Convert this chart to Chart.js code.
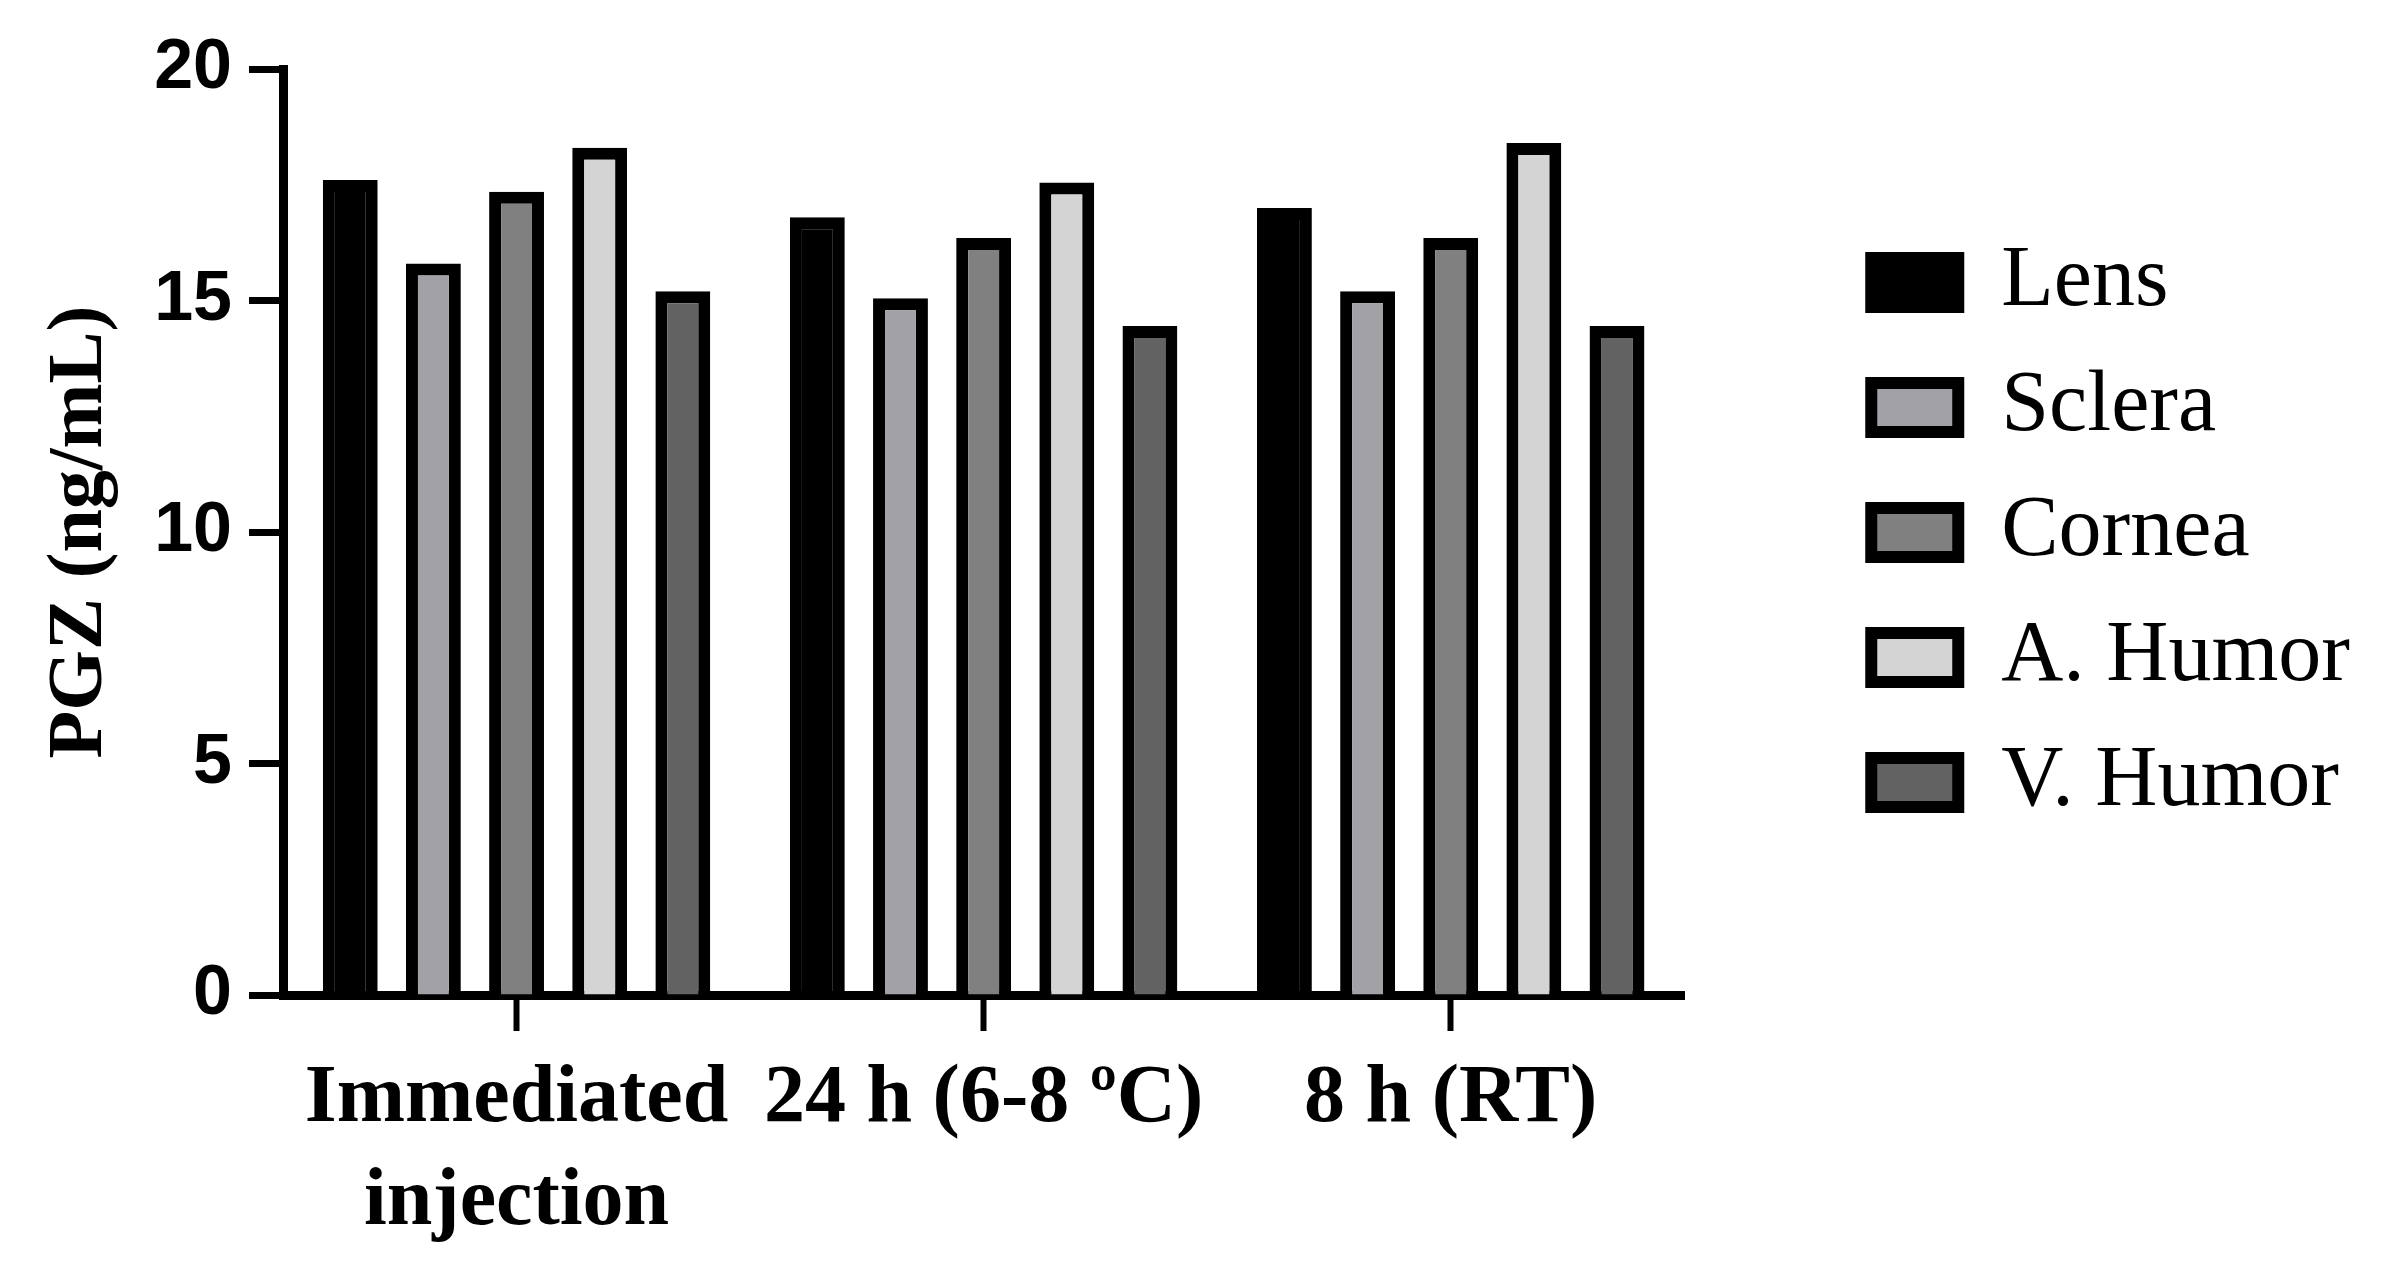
<!DOCTYPE html>
<html>
<head>
<meta charset="utf-8">
<script src="https://cdn.jsdelivr.net/npm/chart.js@4/dist/chart.umd.min.js"></script>
<style>
  html, body { margin: 0; padding: 0; background: #fff; }
  #chart { display: block; }
</style>
</head>
<body>
<canvas id="chart" width="2393" height="1269"></canvas>
<script>
// categories and values (PGZ, ng/mL)
const categories = [['Immediated', 'injection'], '24 h (6-8 ºC)', '8 h (RT)'];
const seriesNames = ['Lens', 'Sclera', 'Cornea', 'A. Humor', 'V. Humor'];
const lens = [17.6, 16.8, 17.0];
const sclera = [15.8, 15.05, 15.2];
const cornea = [17.35, 16.35, 16.35];
const aHumor = [18.3, 17.55, 18.4];
const vHumor = [15.2, 14.45, 14.45];
const yTicks = [0, 5, 10, 15, 20];

const fills = ['#000000', '#a2a1a6', '#808080', '#d4d4d4', '#626262'];
const values = [lens, sclera, cornea, aHumor, vHumor];

const canvas = document.getElementById('chart');

const chart = new Chart(canvas, {
  type: 'bar',
  data: {
    labels: categories,
    datasets: values.map((vals, i) => ({
      label: seriesNames[i],
      data: vals,
      backgroundColor: fills[i],
      borderColor: '#000000',
      borderWidth: 12,
      barPercentage: 0.66,
      categoryPercentage: 0.89,
    })),
  },
  options: {
    responsive: false,
    animation: false,
    devicePixelRatio: 1,
    layout: { padding: { top: 69, right: 33, bottom: 0, left: 0 } },
    plugins: {
      tooltip: { enabled: false },
      legend: {
        position: 'right',
        align: 'start',
        title: {
          display: true,
          text: ' ',
          font: { size: 10, lineHeight: 1 },
          padding: { top: 121.5, bottom: 0 },
        },
        labels: {
          color: '#000',
          boxWidth: 87,
          boxHeight: 49,
          padding: 39,
          font: { family: '"Liberation Serif", serif', size: 86 },
        },
      },
    },
    scales: {
      x: {
        grid: {
          display: true,
          drawOnChartArea: false,
          offset: false,
          tickLength: 36,
          tickWidth: 6,
          tickColor: '#000',
        },
        border: { display: true, color: '#000', width: 9 },
        ticks: {
          color: '#000',
          padding: 17,
          maxRotation: 0,
          font: { family: '"Liberation Serif", serif', size: 82, weight: 'bold', lineHeight: 1.26 },
        },
        afterFit: (s) => { s.height = 274; },
      },
      y: {
        min: 0,
        max: 20,
        afterBuildTicks: (s) => { s.ticks = yTicks.map((v) => ({ value: v })); },
        grid: {
          display: true,
          drawOnChartArea: false,
          tickLength: 34,
          tickWidth: 7,
          tickColor: '#000',
        },
        border: { display: true, color: '#000', width: 9 },
        ticks: {
          color: '#000',
          padding: 17,
          font: { family: '"Liberation Sans", sans-serif', size: 70, weight: 'bold' },
        },
        title: {
          display: true,
          text: 'PGZ (ng/mL)',
          color: '#000',
          padding: { top: 34, bottom: 0 },
          font: { family: '"Liberation Serif", serif', size: 78, weight: 'bold', lineHeight: 1.2 },
        },
        afterFit: (s) => { s.width = 283; },
      },
      // empty gap between the plot and the legend
      pad: {
        type: 'linear',
        position: 'right',
        display: false,
        afterFit: (s) => { s.width = 148; },
      },
    },
  },
});
</script>
</body>
</html>
